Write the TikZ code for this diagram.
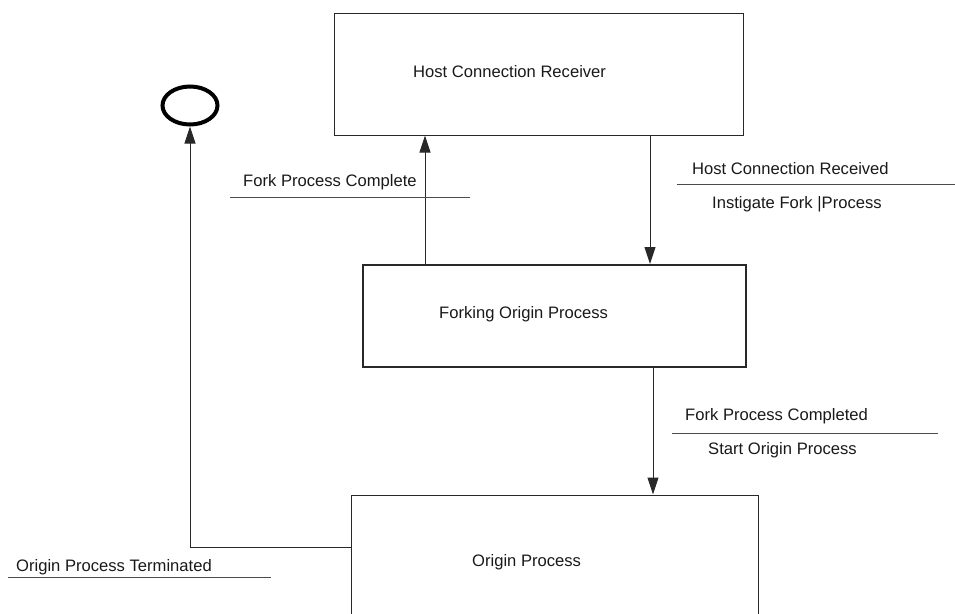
\documentclass[tikz,border=0pt]{standalone}
\usepackage{fontspec}
\setmainfont{Liberation Sans}
\usetikzlibrary{arrows.meta,shapes.geometric}
\definecolor{edge}{RGB}{40,40,40}
\begin{document}
\begin{tikzpicture}[x=1pt,y=-1pt,
  every node/.style={font=\fontsize{16.6}{20}\selectfont},
  statebox/.style={draw=edge, line width=1pt, inner sep=0pt, anchor=north west},
  txt/.style={anchor=base west, inner sep=0pt, text=black!90},
  arr/.style={draw=edge, line width=1pt, -{Triangle[length=17pt,width=11pt]}},
  rule/.style={draw=black!70, line width=1pt}]
\useasboundingbox (0,0) rectangle (955,613);
\clip (0,0) rectangle (955,613);

% states
\node[statebox, minimum width=409pt, minimum height=122pt] (host) at (333.5,12.5) {};
\node[statebox, line width=2pt, minimum width=383pt, minimum height=102pt] (fork) at (362,264) {};
\node[statebox, minimum width=407pt, minimum height=140pt] (origin) at (350.5,494.5) {};
\node[draw=black, ellipse, line width=4pt, inner sep=0pt,
      minimum width=55pt, minimum height=38pt] (term) at (190,105.5) {};

% state names
\node[txt] (hostlbl) at (413,77) {Host Connection Receiver};
\node[txt] (forklbl) at (439,318) {Forking Origin Process};
\node[txt] (originlbl) at (472,566) {Origin Process};

% transitions
\draw[arr] (fork.north -| 425,0) -- (host.south -| 425,0);
\draw[arr] (host.south -| 650,0) -- (fork.north -| 650,0);
\draw[arr] (fork.south -| 653,0) -- (origin.north -| 653,0);
\draw[arr] (origin.west |- 0,547) -| (term.south);

% transition labels: event above the rule, action below
\node[txt] (ev1) at (243,186) {Fork Process Complete};
\draw[rule] (230,197) -- (470,197);

\node[txt] (ev2) at (692,174) {Host Connection Received};
\draw[rule] (677,184) -- (955,184);
\node[txt] (act2) at (712,208) {Instigate Fork |Process};

\node[txt] (ev3) at (685,420) {Fork Process Completed};
\draw[rule] (672,433) -- (938,433);
\node[txt] (act3) at (708,454) {Start Origin Process};

\node[txt] (ev4) at (16,571) {Origin Process Terminated};
\draw[rule] (8,577) -- (271,577);
\end{tikzpicture}
\end{document}
